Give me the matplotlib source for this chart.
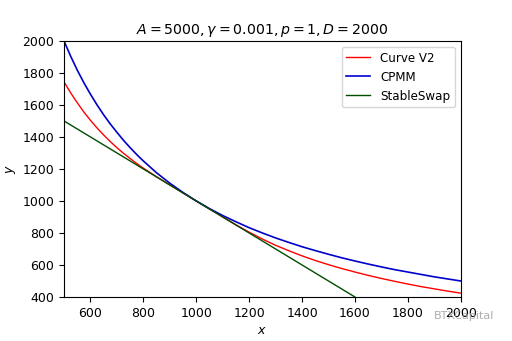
import matplotlib
matplotlib.use("Agg")
import matplotlib.pyplot as plt

x_vals = [500, 525, 550, 575, 600, 625, 650, 675, 700, 725, 750, 775, 800,
          850, 900, 950, 1000, 1050, 1100, 1150, 1200, 1250, 1300, 1350, 1400,
          1450, 1500, 1550, 1600, 1650, 1700, 1750, 1800, 1850, 1900, 1950, 2000]
curve_v2 = [1744, 1676, 1614, 1556, 1504, 1456, 1412, 1371, 1333, 1298, 1265,
            1234, 1205, 1151, 1100, 1050, 1000, 950, 900, 851, 805, 762, 723,
            689, 657, 628, 602, 578, 556, 535, 516, 498, 481, 465, 451, 437, 424]
cpmm = [2000, 1905, 1818, 1739, 1667, 1600, 1538, 1481, 1429, 1379, 1333,
        1290, 1250, 1176, 1111, 1053, 1000, 952, 909, 870, 833, 800, 769, 741,
        714, 690, 667, 645, 625, 606, 588, 571, 556, 541, 526, 513, 500]
stable_x = [500, 1600]
stable_y = [1500, 400]

x_ticks = [600, 800, 1000, 1200, 1400, 1600, 1800, 2000]
y_ticks = [400, 600, 800, 1000, 1200, 1400, 1600, 1800, 2000]

fig = plt.figure(figsize=(5.12, 3.41), dpi=100)
ax = fig.add_axes([0.125, 0.129, 0.775, 0.751])
ax.plot(x_vals, curve_v2, color="red", lw=1.0, label="Curve V2")
ax.plot(x_vals, cpmm, color="#0000cc", lw=1.2, label="CPMM")
ax.plot(stable_x, stable_y, color="#004d00", lw=1.0, label="StableSwap")
ax.set_xlim(500, 2000)
ax.set_ylim(400, 2000)
ax.set_xticks(x_ticks)
ax.set_yticks(y_ticks)
ax.tick_params(labelsize=9, length=3.5)
ax.set_xlabel("$x$", fontsize=9, labelpad=3)
ax.set_ylabel("$y$", fontsize=9, labelpad=3)
ax.set_title(r"$A = 5000, \gamma = 0.001, p = 1, D = 2000$", fontsize=10.2, pad=5)
ax.legend(loc="upper right", fontsize=8.6, handlelength=2.0)
fig.text(0.965, 0.073, "BTXCapital", fontsize=8, color="#999999", alpha=0.8,
         ha="right", va="center")
fig.savefig("out.png")
